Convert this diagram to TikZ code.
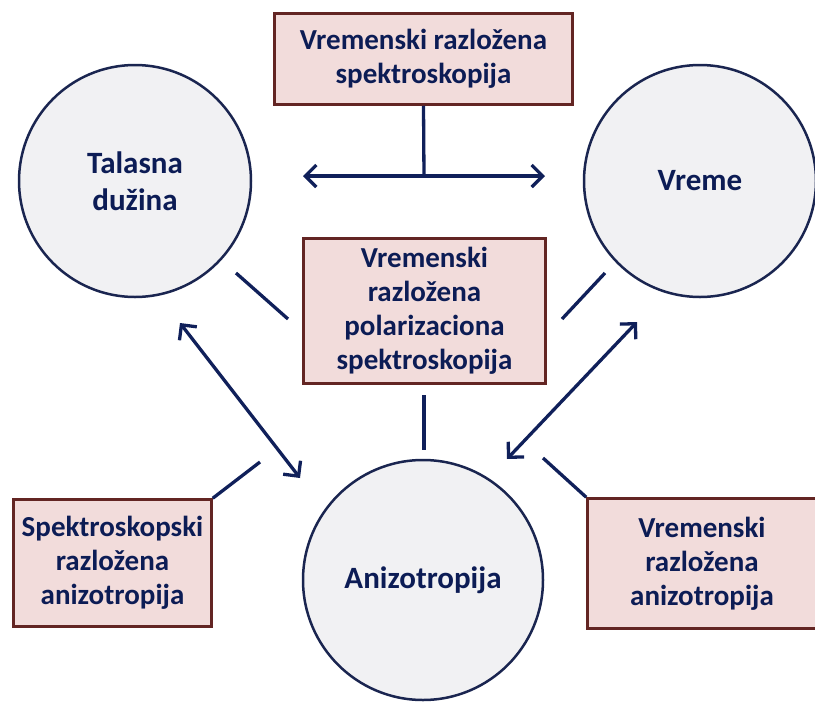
\documentclass[tikz,border=0pt]{standalone}
\usepackage{fontspec}
\setmainfont{Carlito}
\usetikzlibrary{arrows.meta}
\definecolor{boxfill}{HTML}{F2DCDB}
\definecolor{boxdraw}{HTML}{632523}
\definecolor{navy}{HTML}{10205A}
\definecolor{txtnavy}{HTML}{0C1C55}
\definecolor{circfill}{HTML}{F1F1F3}
\definecolor{circdraw}{HTML}{1A2550}
\begin{document}
\begin{tikzpicture}[x=1pt,y=-1pt,
 lbl/.style={font=\fontsize{29}{34}\selectfont\bfseries, text=txtnavy, align=center},
 pbox/.style={lbl, draw=boxdraw, fill=boxfill, line width=2.5pt, inner sep=0pt},
 circ/.style={lbl, font=\fontsize{31}{37}\selectfont\bfseries, circle, draw=circdraw, fill=circfill, line width=2.5pt, inner sep=0pt},
 conn/.style={draw=navy, line width=3.3pt},
 dbl/.style={conn, {Straight Barb[length=11pt,width=22pt]}-{Straight Barb[length=11pt,width=22pt]}}
]
\useasboundingbox (0,0) rectangle (815,702);
% circles
\node[circ, minimum size=232pt] (wl) at (135,181) {Talasna\\dužina};
\node[circ, minimum size=232pt] (vr) at (700,181) {Vreme};
\node[circ, minimum size=240pt] (an) at (423,580) {Anizotropija};
% boxes
\node[pbox, minimum width=298pt, minimum height=91pt] (tb) at (423.5,59) {Vremenski razložena\\spektroskopija};
\node[pbox, minimum width=242pt, minimum height=145pt] (cb) at (424.5,311) {Vremenski\\razložena\\polarizaciona\\spektroskopija};
\node[pbox, minimum width=198pt, minimum height=127pt] (bl) at (112.5,563) {Spektroskopski\\razložena\\anizotropija};
\node[pbox, minimum width=229pt, minimum height=130pt] (br) at (702,563.5) {Vremenski\\razložena\\anizotropija};
% coordinates
\coordinate (tj) at (424,176);
\coordinate (ta) at (303,176);
\coordinate (tz) at (545,176);
\coordinate (l1a) at (236,273);
\coordinate (l1b) at (288,319);
\coordinate (r1a) at (605,273);
\coordinate (r1b) at (562,319);
\coordinate (va) at (424,395);
\coordinate (vb) at (424,450);
\coordinate (la) at (180,323);
\coordinate (lb) at (300,478);
\coordinate (ra) at (637,322);
\coordinate (rb) at (507,459);
\coordinate (bla) at (260,462);
\coordinate (bra) at (543,458);
% connectors
\draw[conn] (tb.south) -- (tj);
\draw[dbl] (ta) -- (tz);
\draw[conn] (l1a) -- (l1b);
\draw[conn] (r1a) -- (r1b);
\draw[conn] (va) -- (vb);
\draw[dbl] (la) -- (lb);
\draw[dbl] (ra) -- (rb);
\draw[conn] (bla) -- (bl.north east);
\draw[conn] (bra) -- (br.north west);
\end{tikzpicture}
\end{document}
